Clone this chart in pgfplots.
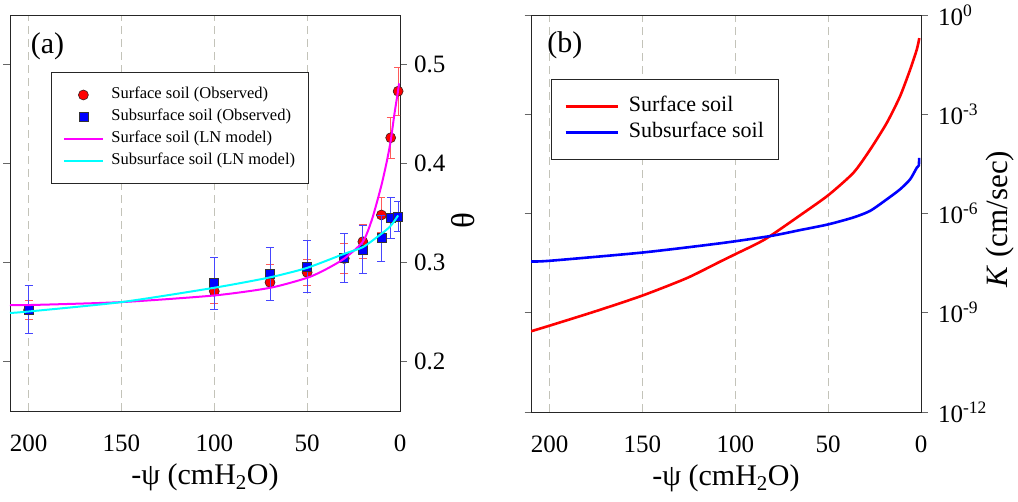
\documentclass[border=0pt]{standalone}
\usepackage{fontspec}
\setmainfont{Liberation Serif}
\usepackage{pgfplots}
\usepackage{pgfplotstable}
\pgfplotsset{compat=1.18}
\definecolor{gridc}{RGB}{195,195,185}
\definecolor{errred}{RGB}{255,90,90}
\definecolor{errblue}{RGB}{70,70,255}
\definecolor{edgec}{RGB}{60,30,30}
\definecolor{mag}{RGB}{255,0,255}
\definecolor{cyn}{RGB}{0,255,255}
\definecolor{pred}{RGB}{255,0,0}
\definecolor{pblue}{RGB}{0,0,255}

\pgfplotstableread{
x y e
200 0.252 0.010
100 0.271 0.012
70 0.280 0.018
50 0.290 0.0135
30 0.304 0.015
20 0.321 0.017
10 0.348 0.018
5 0.426 0.021
1 0.473 0.024
}\surfobs

\pgfplotstableread{
x y e
200 0.2525 0.024
100 0.279 0.026
70 0.2886 0.0266
50 0.296 0.026
30 0.305 0.0247
20 0.313 0.0245
10 0.3245 0.023
5 0.345 0.021
1 0.3465 0.0155
}\subobs

\pgfplotstableread{
x y
210 0.257
200 0.257
150 0.260
100 0.2667
70 0.2744
50 0.2845
40 0.293
30 0.304
20 0.321
15 0.344
10 0.378
7 0.403
5 0.423
3 0.450
1 0.474
0.5 0.481
}\surfln

\pgfplotstableread{
x y
210 0.249
200 0.2505
150 0.260
100 0.2745
70 0.285
50 0.2946
30 0.3088
20 0.3155
10 0.329
5 0.337
1 0.3475
}\subln

\pgfplotstableread{
x k
210 2.75e-10
200 4.07e-10
175 1.12e-9
150 3.31e-9
126 1.12e-8
108 3.55e-8
100 5.89e-8
84 1.66e-7
65 8.91e-7
50 3.55e-6
36.4 1.70e-5
27.4 8.51e-5
18.4 5.50e-4
11.3 3.47e-3
5.9 2.19e-2
2.3 8.91e-2
0.9 2.00e-1
}\surfk

\pgfplotstableread{
x k
210 3.55e-8
200 3.72e-8
150 6.61e-8
108 1.26e-7
81 2.09e-7
65 3.16e-7
50 4.68e-7
36.4 7.59e-7
27.4 1.20e-6
18.4 2.69e-6
11.3 5.37e-6
5.9 1.07e-5
2.3 2.40e-5
1.2 2.82e-5
1.0 4.79e-5
}\subk

\begin{document}
\begin{tikzpicture}
\useasboundingbox (0,0) rectangle (1018bp,502bp);
\pgfplotsset{panel/.style={
  scale only axis, width=390bp,
  x dir=reverse, xmin=0, xmax=210,
  xtick={0,50,100,150,200},
  xmajorgrids,
  grid style={gridc, dash pattern=on 8bp off 5bp, line width=0.9bp},
  axis line style={black!85, line width=0.9bp},
  tick style={black!60, line width=0.9bp},
  tick align=outside,
  major tick length=6.5bp,
  xtick style={draw=none},
  ytick pos=both, yticklabel pos=right,
  xtick pos=bottom,
  tick label style={font=\fontsize{25bp}{30bp}\selectfont},
  /pgf/number format/assume math mode=true,
  xticklabel style={yshift=-14bp},
  every axis x label/.style={at={(rel axis cs:0.5,0)}, yshift=-66bp, anchor=center,
     font=\fontsize{30bp}{36bp}\selectfont},
  xlabel={-ψ (cmH\textsubscript{2}O)},
  clip mode=individual,
}}

\begin{axis}[panel,
  at={(10bp,91bp)}, anchor=south west, height=396bp,
  ymin=0.15, ymax=0.55, ytick={0.2,0.3,0.4,0.5},
  yticklabel style={xshift=4bp, /pgf/number format/fixed, /pgf/number format/precision=1},
  every axis y label/.style={at={(rel axis cs:1,0.482)}, xshift=63bp, rotate=90, anchor=center,
     font=\fontsize{33bp}{38bp}\selectfont},
  ylabel={θ},
  legend image code/.code={\draw[mark repeat=2,mark phase=2,#1] plot coordinates {(0bp,0bp) (19bp,0bp) (38bp,0bp)};},
  legend style={at={(rel axis cs:0.105,0.856)}, anchor=north west, draw=black!85, line width=0.9bp,
    font=\fontsize{16.5bp}{20bp}\selectfont, inner xsep=12bp, inner ysep=13.5bp,
    row sep=4bp, column sep=7bp,
    nodes={inner sep=1bp, text height=12bp, text depth=4bp}},
  legend cell align=left,
]
\addplot[only marks, mark=*, mark size=5bp, mark options={fill=pred, draw=edgec, line width=0.6bp},
  error bars/.cd, y dir=both, y explicit,
  error bar style={errred, line width=0.9bp},
  error mark options={rotate=90, errred, mark size=4bp, line width=0.9bp}]
  table[x=x, y=y, y error=e] {\surfobs};
\addlegendentry{Surface soil (Observed)}
\addplot[only marks, mark=square*, mark size=4.5bp, mark options={fill=pblue, draw=black!80, line width=0.6bp},
  error bars/.cd, y dir=both, y explicit,
  error bar style={errblue, line width=0.9bp},
  error mark options={rotate=90, errblue, mark size=4bp, line width=0.9bp}]
  table[x=x, y=y, y error=e] {\subobs};
\addlegendentry{Subsurface soil (Observed)}
\addplot[mag, line width=2bp, no marks, smooth, tension=0.4] table[x=x, y=y] {\surfln};
\addlegendentry{Surface soil (LN model)}
\addplot[cyn, line width=2bp, no marks, smooth, tension=0.4] table[x=x, y=y] {\subln};
\addlegendentry{Subsurface soil (LN model)}
\node[font=\fontsize{30bp}{36bp}\selectfont] at (rel axis cs:0.096,0.922) {(a)};
\end{axis}

\begin{axis}[panel,
  at={(531bp,90bp)}, anchor=south west, height=397bp,
  ymode=log, ymin=1e-12, ymax=1,
  ytick={1e-12,1e-9,1e-6,1e-3,1},
  yticklabels={10\textsuperscript{-12},10\textsuperscript{-9},10\textsuperscript{-6},10\textsuperscript{-3},10\textsuperscript{0}},
  yminorticks=false,
  yticklabel style={xshift=7bp},
  every axis y label/.style={at={(rel axis cs:1,0.486)}, xshift=79bp, rotate=90, anchor=center,
     font=\fontsize{31bp}{36bp}\selectfont},
  ylabel={\textit{K} (cm/sec)},
  legend image code/.code={\draw[#1] (0bp,0bp) -- (52bp,0bp);},
  legend style={at={(rel axis cs:0.051,0.839)}, anchor=north west, draw=black!85, line width=0.9bp,
    font=\fontsize{22bp}{26bp}\selectfont, inner xsep=13bp, inner ysep=16bp,
    row sep=4bp, column sep=9bp,
    nodes={inner sep=1bp, text height=15bp, text depth=5bp}},
  legend cell align=left,
]
\addplot[pred, line width=2.6bp, no marks, smooth, tension=0.4] table[x=x, y=k] {\surfk};
\addlegendentry{Surface soil}
\addplot[pblue, line width=2.6bp, no marks, smooth, tension=0.4] table[x=x, y=k] {\subk};
\addlegendentry{Subsurface soil}
\node[font=\fontsize{30bp}{36bp}\selectfont] at (rel axis cs:0.087,0.924) {(b)};
\end{axis}
\end{tikzpicture}
\end{document}
